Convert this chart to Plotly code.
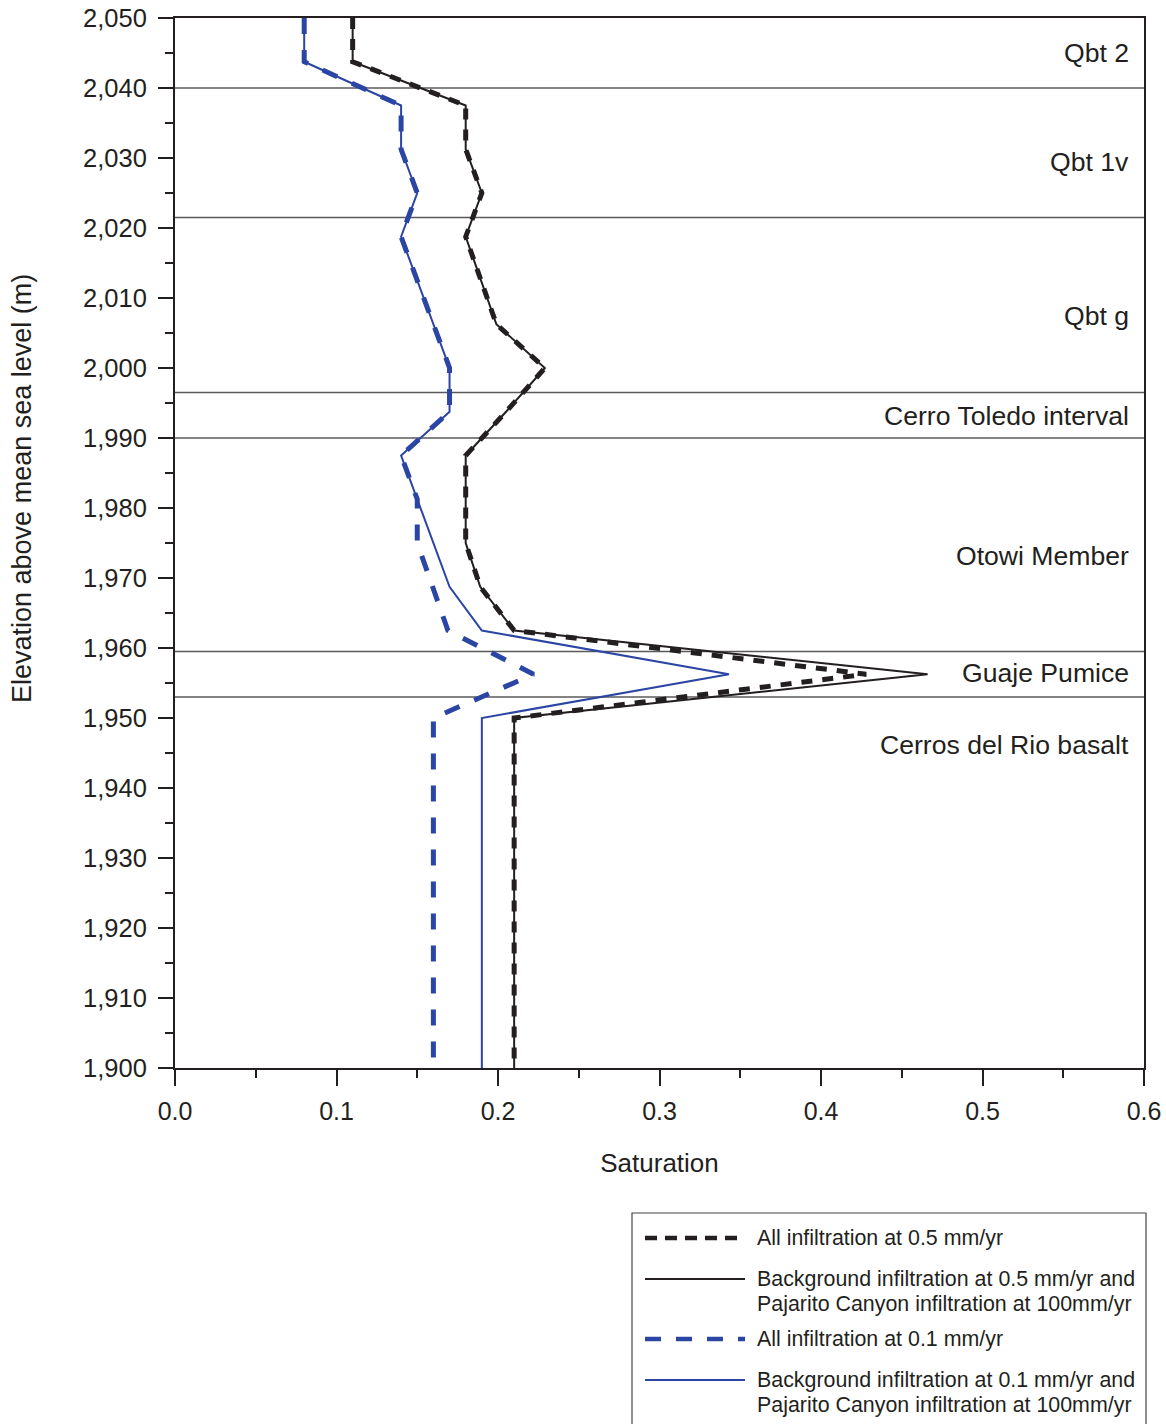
import plotly.graph_objects as go

# Elevation nodes (m above mean sea level) and simulated saturation profiles
elev_black = [2050, 2043.75, 2037.5, 2031.25, 2025, 2018.75, 2006.25, 2000,
              1993.75, 1987.5, 1975, 1968.75, 1962.5, 1956.25, 1950, 1900]
sat_all_05 = [0.11, 0.11, 0.18, 0.18, 0.19, 0.18, 0.199, 0.229,
              0.205, 0.18, 0.18, 0.189, 0.21, 0.428, 0.21, 0.21]
sat_bg05_pc100 = [0.11, 0.11, 0.18, 0.18, 0.19, 0.18, 0.199, 0.229,
                  0.205, 0.18, 0.18, 0.189, 0.21, 0.466, 0.21, 0.21]

elev_blue_dash = [2050, 2043.75, 2037.5, 2031.25, 2025, 2018.75, 2000, 1993.75,
                  1987.5, 1981.25, 1975, 1962.5, 1956.25, 1950, 1900]
sat_all_01 = [0.08, 0.08, 0.14, 0.14, 0.15, 0.14, 0.17, 0.17,
              0.14, 0.15, 0.15, 0.169, 0.222, 0.16, 0.16]

elev_blue_solid = [2050, 2043.75, 2037.5, 2031.25, 2025, 2018.75, 2000, 1993.75,
                   1987.5, 1968.75, 1962.5, 1956.25, 1950, 1900]
sat_bg01_pc100 = [0.08, 0.08, 0.14, 0.14, 0.15, 0.14, 0.17, 0.17,
                  0.14, 0.17, 0.19, 0.343, 0.19, 0.19]

# Stratigraphic units
unit_names = ["Qbt 2", "Qbt 1v", "Qbt g", "Cerro Toledo interval",
              "Otowi Member", "Guaje Pumice", "Cerros del Rio basalt"]
unit_label_elev = [2045, 2029.5, 2007.5, 1993.1, 1973.2, 1956.4, 1946.2]
unit_boundaries = [2040, 2021.5, 1996.5, 1990, 1959.5, 1953]

legend_labels = [
    ["All infiltration at 0.5 mm/yr"],
    ["Background infiltration at 0.5 mm/yr and",
     "Pajarito Canyon infiltration at 100mm/yr"],
    ["All infiltration at 0.1 mm/yr"],
    ["Background infiltration at 0.1 mm/yr and",
     "Pajarito Canyon infiltration at 100mm/yr"],
]

BLACK = "#231f20"
BLUE = "#2a45a3"
FONT = "Liberation Sans, Arial, sans-serif"

W, H = 1166, 1424
L, R, T, B = 175, 22, 18, 356
PW, PH = W - L - R, H - T - B


def px_x(px):
    return (px - L) / PW


def px_y(py):
    return (H - B - py) / PH


fig = go.Figure()

fig.add_trace(go.Scatter(x=sat_bg05_pc100, y=elev_black, mode="lines",
                         line=dict(color=BLACK, width=2), showlegend=False))
fig.add_trace(go.Scatter(x=sat_bg01_pc100, y=elev_blue_solid, mode="lines",
                         line=dict(color=BLUE, width=2), showlegend=False))
fig.add_trace(go.Scatter(x=sat_all_05, y=elev_black, mode="lines",
                         line=dict(color=BLACK, width=5, dash="11px,10px"),
                         showlegend=False))
fig.add_trace(go.Scatter(x=sat_all_01, y=elev_blue_dash, mode="lines",
                         line=dict(color=BLUE, width=5, dash="16px,16px"),
                         showlegend=False))

shapes = []
for b in unit_boundaries:
    shapes.append(dict(type="line", xref="paper", yref="y", x0=0, x1=1, y0=b, y1=b,
                       line=dict(color="#5a5a5a", width=1.5), layer="below"))

annotations = []
for name, ye in zip(unit_names, unit_label_elev):
    annotations.append(dict(text=name, xref="paper", yref="y", x=px_x(1131), y=ye,
                            xanchor="right", yanchor="middle", showarrow=False,
                            font=dict(family=FONT, size=26.6, color=BLACK)))

# Y-axis title, placed slightly above the plot's vertical centre
annotations.append(dict(text="Elevation above mean sea level (m)", textangle=-90,
                        xref="paper", yref="paper", x=px_x(22), y=px_y(489),
                        xanchor="center", yanchor="middle", showarrow=False,
                        font=dict(family=FONT, size=27, color=BLACK)))

# Legend box
shapes.append(dict(type="rect", xref="paper", yref="paper",
                   x0=px_x(632), x1=px_x(1146), y0=px_y(1440), y1=px_y(1213),
                   line=dict(color="#444444", width=1.2)))

legend_styles = [
    dict(color=BLACK, width=4.5, dash="12px,8px"),
    dict(color=BLACK, width=2),
    dict(color=BLUE, width=4.5, dash="16px,15px"),
    dict(color=BLUE, width=2),
]
legend_rows = [[1238], [1279, 1304], [1339], [1380, 1405]]
for style, rows, texts in zip(legend_styles, legend_rows, legend_labels):
    shapes.append(dict(type="line", xref="paper", yref="paper",
                       x0=px_x(645), x1=px_x(745), y0=px_y(rows[0]), y1=px_y(rows[0]),
                       line=style))
    for ry, t in zip(rows, texts):
        annotations.append(dict(text=t, xref="paper", yref="paper", x=px_x(755), y=px_y(ry),
                                xanchor="left", yanchor="middle", showarrow=False,
                                font=dict(family=FONT, size=21.4, color=BLACK)))

fig.update_layout(
    width=W, height=H,
    margin=dict(l=L, r=R, t=T, b=B, autoexpand=False),
    paper_bgcolor="white", plot_bgcolor="white",
    font=dict(family=FONT, color=BLACK),
    showlegend=False,
    shapes=shapes, annotations=annotations,
    xaxis=dict(
        range=[0, 0.6], dtick=0.1, tick0=0, tickformat=".1f",
        showgrid=False, zeroline=False,
        showline=True, mirror=True, linecolor=BLACK, linewidth=2,
        ticks="outside", ticklen=16, tickwidth=1.5, tickcolor=BLACK,
        minor=dict(dtick=0.05, ticks="outside", ticklen=8, tickwidth=1.5, tickcolor=BLACK),
        tickfont=dict(family=FONT, size=25, color=BLACK),
        ticklabelstandoff=4,
        title=dict(text="Saturation", font=dict(family=FONT, size=26, color=BLACK), standoff=30),
    ),
    yaxis=dict(
        range=[1900, 2050], dtick=10, tick0=1900, tickformat=",",
        showgrid=False, zeroline=False,
        showline=True, mirror=True, linecolor=BLACK, linewidth=2,
        ticks="outside", ticklen=15, tickwidth=1.5, tickcolor=BLACK,
        minor=dict(dtick=5, ticks="outside", ticklen=8, tickwidth=1.5, tickcolor=BLACK),
        tickfont=dict(family=FONT, size=25.5, color=BLACK),
        ticklabelstandoff=6,
    ),
)

fig.write_html("out.html")
